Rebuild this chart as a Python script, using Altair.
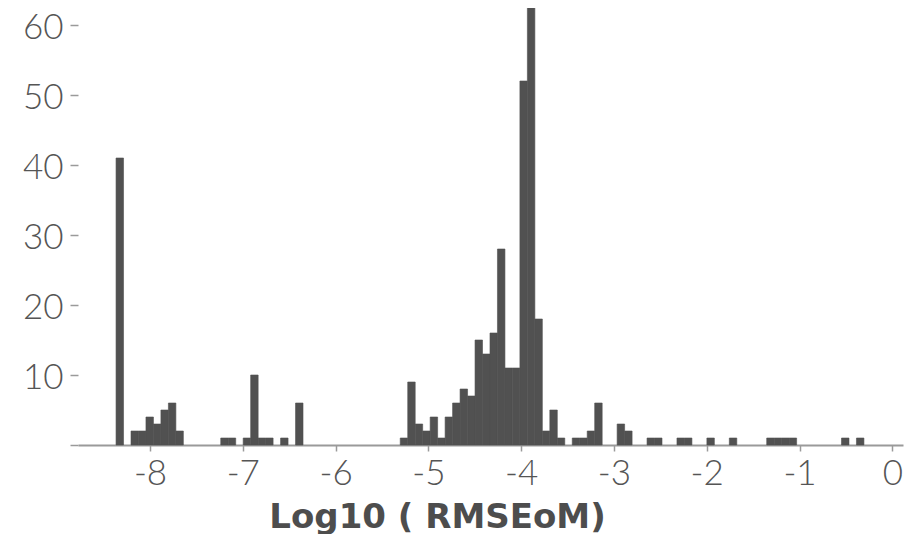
import altair as alt
import pandas as pd

# Histogram of Log10(RMSEoM): 100 equal-width bins
bin_start = -8.366
bin_width = 0.0806
counts = [
    41, 0, 2, 2, 4, 3, 5, 6, 2, 0,
    0, 0, 0, 0, 1, 1, 0, 1, 10, 1,
    1, 0, 1, 0, 6, 0, 0, 0, 0, 0,
    0, 0, 0, 0, 0, 0, 0, 0, 1, 9,
    3, 2, 4, 1, 4, 6, 8, 7, 15, 13,
    16, 28, 11, 11, 52, 63, 18, 2, 5, 1,
    0, 1, 1, 2, 6, 0, 0, 3, 2, 0,
    0, 1, 1, 0, 0, 1, 1, 0, 0, 1,
    0, 0, 1, 0, 0, 0, 0, 1, 1, 1,
    1, 0, 0, 0, 0, 0, 0, 1, 0, 1,
]
x_ticks = [-8, -7, -6, -5, -4, -3, -2, -1, 0]
y_ticks = [0, 10, 20, 30, 40, 50, 60]

rows = []
for i, c in enumerate(counts):
    if c > 0:
        s = bin_start + i * bin_width
        rows.append({"start": s, "end": s + bin_width, "count": c})
df = pd.DataFrame(rows)

label_font = "Lato"
gray_axis = "#9a9a9a"
bar_color = "#515151"

chart = alt.Chart(df).mark_bar(color=bar_color, stroke=bar_color, strokeWidth=0.6).encode(
    x=alt.X(
        "start:Q",
        scale=alt.Scale(domain=[-8.776, 0.115], nice=False, zero=False),
        axis=alt.Axis(
            values=x_ticks,
            labelExpr="toString(datum.value)",
            grid=False,
            domainColor=gray_axis,
            domainWidth=2,
            tickColor=gray_axis,
            tickWidth=1.5,
            tickSize=6,
            labelPadding=5,
            labelFont=label_font,
            labelFontSize=35,
            labelFontWeight=300,
            labelColor="#555555",
            title="Log10 ( RMSEoM)",
            titleFont="DejaVu Sans",
            titleFontSize=34,
            titleFontWeight="bold",
            titleColor="#4d4d4d",
            titleX=359,
            titleY=82,
            titleAlign="center",
            titleBaseline="alphabetic",
        ),
    ),
    x2="end:Q",
    y=alt.Y(
        "count:Q",
        scale=alt.Scale(domain=[0, 62.43], nice=False),
        axis=alt.Axis(
            values=y_ticks,
            labelExpr="datum.value == 0 ? '' : datum.label",
            grid=False,
            domain=False,
            tickColor=gray_axis,
            tickWidth=1.5,
            tickSize=8,
            labelPadding=7,
            labelOffset=2,
            labelFont=label_font,
            labelFontSize=35,
            labelFontWeight=300,
            labelColor="#555555",
            title="",
        ),
    ),
    y2=alt.datum(0),
).properties(
    width=825,
    height=437,
    background="white",
    autosize=alt.AutoSizeParams(type="none"),
    padding={"left": 70, "top": 0, "right": 7, "bottom": 89},
).configure_view(stroke="transparent", strokeWidth=0)

chart.save("out.html", embed_options={"renderer": "svg", "actions": False})
